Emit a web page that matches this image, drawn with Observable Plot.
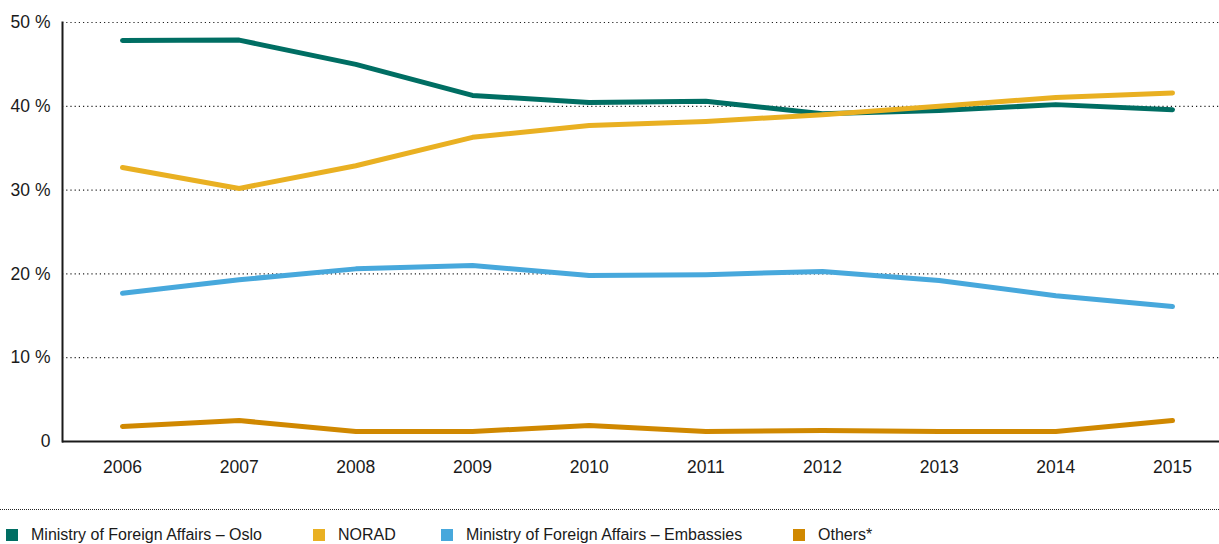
<!DOCTYPE html>
<html>
<head>
<meta charset="utf-8">
<script src="https://cdn.jsdelivr.net/npm/d3@7"></script>
<script src="https://cdn.jsdelivr.net/npm/@observablehq/plot@0.6"></script>
<style>
  body { margin: 0; background: #fff; font-family: "Liberation Sans", Arial, sans-serif; }
  #wrap { position: relative; width: 1219px; height: 544px; }
  #sep { position: absolute; left: 0; top: 509px; width: 1219px; border-top: 1.5px dotted #222; }
  .item { position: absolute; top: 526px; display: flex; align-items: center; font-size: 16px; color: #1a1a1a; white-space: nowrap; }
  .sw { width: 12px; height: 12px; margin-right: 13px; }
</style>
</head>
<body>
<div id="wrap">
  <div id="chart"></div>
  <div id="sep"></div>
  <div id="legend"></div>
</div>
<script>
const years = [2006, 2007, 2008, 2009, 2010, 2011, 2012, 2013, 2014, 2015];
const seriesNames = ["Ministry of Foreign Affairs – Oslo", "NORAD", "Ministry of Foreign Affairs – Embassies", "Others*"];
const seriesColors = ["#006e63", "#e9b022", "#47a8dc", "#d08800"];
const oslo = [47.85, 47.9, 45.0, 41.3, 40.45, 40.6, 39.1, 39.5, 40.2, 39.6];
const norad = [32.7, 30.2, 32.9, 36.3, 37.7, 38.2, 39.0, 40.0, 41.05, 41.6];
const embassies = [17.7, 19.3, 20.6, 21.0, 19.8, 19.9, 20.3, 19.2, 17.4, 16.1];
const others = [1.8, 2.5, 1.2, 1.2, 1.9, 1.2, 1.3, 1.2, 1.2, 2.5];
const yTicks = [0, 10, 20, 30, 40, 50];
const legendLeft = [6, 313, 441, 793];

const allSeries = [oslo, norad, embassies, others];
const data = [];
allSeries.forEach((vals, i) => vals.forEach((v, j) => data.push({ series: seriesNames[i], year: years[j], value: v })));

const chart = Plot.plot({
  width: 1219,
  height: 490,
  marginTop: 22,
  marginBottom: 49,
  marginLeft: 62,
  marginRight: 0,
  style: { fontFamily: "'Liberation Sans', Arial, sans-serif", fontSize: "17.5px", color: "#1a1a1a" },
  x: { domain: [2006, 2015], range: [122, 1172], ticks: years, tickFormat: d => String(d), tickSize: 0, tickPadding: 19, label: null },
  y: { domain: [0, 50], ticks: yTicks, tickFormat: d => d === 0 ? "0" : d + " %", tickSize: 0, tickPadding: 12, label: null },
  color: { domain: seriesNames, range: seriesColors },
  marks: [
    Plot.ruleY(yTicks.filter(d => d > 0), { stroke: "#222", strokeWidth: 1.2, strokeDasharray: "1.2,3" }),
    Plot.line(data, { x: "year", y: "value", z: "series", stroke: "series", strokeWidth: 5, strokeLinecap: "round", strokeLinejoin: "round" }),
    Plot.ruleY([0], { stroke: "#1a1a1a", strokeWidth: 2 }),
    Plot.frame({ anchor: "left", stroke: "#1a1a1a", strokeWidth: 2 })
  ]
});
document.getElementById("chart").appendChild(chart);

const legend = document.getElementById("legend");
seriesNames.forEach((name, i) => {
  const el = document.createElement("div");
  el.className = "item";
  el.style.left = legendLeft[i] + "px";
  el.innerHTML = `<span class="sw" style="background:${seriesColors[i]}"></span><span>${name}</span>`;
  legend.appendChild(el);
});
</script>
</body>
</html>
